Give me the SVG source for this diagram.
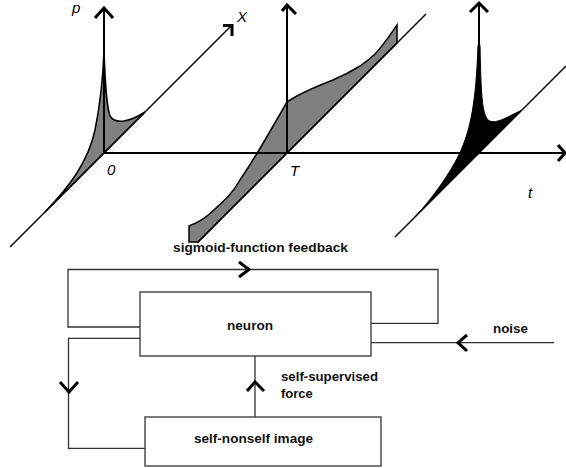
<svg xmlns="http://www.w3.org/2000/svg" width="566" height="468" viewBox="0 0 566 468">
<style>
.ax{stroke:#000;stroke-width:2;fill:none}
.diag{stroke:#000;stroke-width:1.5;fill:none}
.head{stroke:#000;stroke-width:3;fill:none;stroke-linecap:butt;stroke-linejoin:miter}
.lab{font-family:"Liberation Sans",Arial,sans-serif;font-style:italic;font-size:15px;fill:#000}
.shade{fill:#808080;stroke:#000;stroke-width:1.5}
.box{fill:#fff;stroke:#333;stroke-width:1.3}
.wire{fill:none;stroke:#333;stroke-width:1.3}
.chev{fill:none;stroke:#000;stroke-width:3}
.txt{font-family:"Liberation Sans",Arial,sans-serif;font-weight:bold;font-size:13px;fill:#111}
</style>
<rect width="566" height="468" fill="#fff"/>
<g id="plots">
  <!-- region 1 -->
  <path class="shade" d="M45,212 C70,186 88,162 95,130 C100,105 103,80 104,50 C105,80 106,105 110,116 C115,124 128,123 145,112 L104,153 Z"/>
  <!-- region 2 -->
  <path class="shade" d="M189,242 L189,226 C200,222 208,216 215,209 C225,200 232,194 240,180 C250,165 258,152 265,140 L287,102 C300,93 315,87 333,80 C345,75 352,71 360,66 C366,62 370,59 375,54 C385,43 390,35 397,25 L397,43 L198,242 Z"/>
  <!-- region 3 -->
  <path fill="#000" stroke="#000" stroke-width="1" d="M405,227 C428,205 452,172 462,148 C470,128 476,105 478,45 L480,45 C481,95 482,113 488,120 C495,125 505,118 522,110 L479,153 Z"/>
  <!-- axes -->
  <line class="ax" x1="104" y1="153" x2="565" y2="153"/>
  <polyline class="head" points="558,145 565,153 558,161"/>
  <line class="diag" x1="10" y1="247" x2="232" y2="25"/>
  <polyline class="head" points="223,25.5 232,25.5 232,36"/>
  <line class="diag" x1="197" y1="243" x2="426" y2="14"/>
  <line class="diag" x1="395" y1="237" x2="566" y2="66"/>
  <line class="ax" x1="104" y1="153" x2="104" y2="8" stroke-width="2.5"/>
  <polyline class="head" points="95,18 104,8 113,18"/>
  <line class="ax" x1="287" y1="153" x2="287" y2="5"/>
  <polyline class="head" points="282,11 287,5 296,14"/>
  <line class="ax" x1="479" y1="153" x2="479" y2="3" stroke-width="2.5"/>
  <polyline class="head" points="470,12 479,3 488,12"/>
  <text class="lab" x="72" y="13">p</text>
  <text class="lab" x="237" y="22">X</text>
  <text class="lab" x="107" y="175">0</text>
  <text class="lab" x="290" y="176">T</text>
  <text class="lab" x="528" y="198">t</text>
</g>
<g id="connectors">
  <path class="wire" d="M140,327 H68 V269.5 H438 V323.3 H371"/>
  <polyline class="chev" points="239,262 249,269.5 239,277"/>
  <path class="wire" d="M140,338.3 H68.5 V448.3 H145"/>
  <polyline class="chev" points="60,382 69,392 78,382"/>
  <line class="wire" x1="255" y1="356" x2="255" y2="417"/>
  <polyline class="chev" stroke-width="2" points="247,391 255,382 264,391"/>
  <line class="wire" stroke="#000" x1="371" y1="342.7" x2="554" y2="342.7"/>
  <polyline class="chev" points="467,335 458,342.7 467,351"/>
  <text class="txt" x="173" y="252" textLength="175" lengthAdjust="spacingAndGlyphs">sigmoid-function feedback</text>
  <text class="txt" x="493" y="333" textLength="35" lengthAdjust="spacingAndGlyphs">noise</text>
  <text class="txt" x="281" y="381" textLength="97" lengthAdjust="spacingAndGlyphs">self-supervised</text>
  <text class="txt" x="281" y="398">force</text>
</g>
<g id="neuron">
  <rect class="box" x="140" y="292" width="231" height="64"/>
  <text class="txt" x="227" y="330" textLength="46" lengthAdjust="spacingAndGlyphs">neuron</text>
</g>
<g id="self-nonself">
  <rect class="box" x="145" y="417" width="236" height="49"/>
  <text class="txt" x="194" y="443" textLength="119" lengthAdjust="spacingAndGlyphs">self-nonself image</text>
</g>
</svg>
